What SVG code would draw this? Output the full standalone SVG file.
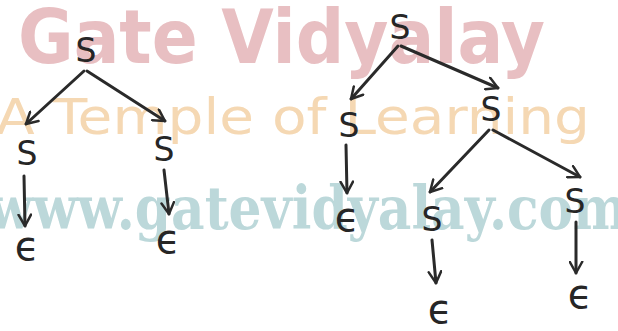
<svg xmlns="http://www.w3.org/2000/svg" width="618" height="331" viewBox="0 0 618 331">
<style>
.wm1{font-family:"DejaVu Sans Condensed","DejaVu Sans",sans-serif;font-weight:bold;fill:#e8bfc2;}
.wm2{font-family:"DejaVu Sans",sans-serif;fill:#f5d8b3;}
.wm3{font-family:"DejaVu Serif",serif;font-weight:bold;fill:#bcd8da;}
.sym{font-family:"DejaVu Sans",sans-serif;font-size:33px;fill:#262626;text-anchor:middle;}
.eps{font-family:"DejaVu Sans",sans-serif;font-size:40px;fill:#262626;text-anchor:middle;}
.edge{stroke:#2a2a2a;stroke-width:3;fill:none;stroke-linecap:round;marker-end:url(#ah);}
</style>
<defs>
<marker id="ah" viewBox="0 0 12 12" refX="10" refY="6" markerWidth="5" markerHeight="5" orient="auto" markerUnits="strokeWidth">
<polyline points="1,1 10,6 1,11" fill="none" stroke="#2a2a2a" stroke-width="2" stroke-linecap="round" stroke-linejoin="round"/>
</marker>
</defs>
<rect width="618" height="331" fill="#ffffff"/>
<g id="watermark">
<text class="wm1" x="18" y="63" font-size="74" textLength="527" lengthAdjust="spacingAndGlyphs">Gate Vidyalay</text>
<text class="wm2" x="-4" y="134" font-size="50" textLength="594" lengthAdjust="spacingAndGlyphs">A Temple of Learning</text>
<text class="wm3" x="-12" y="229" font-size="60" textLength="640" lengthAdjust="spacingAndGlyphs">www.gatevidyalay.com</text>
</g>
<g id="connectors">
<line class="edge" x1="84" y1="71" x2="26" y2="124"/>
<line class="edge" x1="87" y1="71" x2="165" y2="121"/>
<line class="edge" x1="24" y1="176" x2="25" y2="226"/>
<line class="edge" x1="164" y1="170" x2="169" y2="214"/>
<line class="edge" x1="398" y1="46" x2="351" y2="99"/>
<line class="edge" x1="401" y1="46" x2="498" y2="88"/>
<line class="edge" x1="346" y1="145" x2="347" y2="193"/>
<line class="edge" x1="489" y1="130" x2="430" y2="192"/>
<line class="edge" x1="493" y1="130" x2="580" y2="177"/>
<line class="edge" x1="432" y1="240" x2="436" y2="283"/>
<line class="edge" x1="576" y1="222" x2="576" y2="273"/>
</g>
<g id="n1"><text class="sym" x="86" y="62">S</text></g>
<g id="n2"><text class="sym" x="27" y="165">S</text></g>
<g id="n3"><text class="sym" x="164" y="161">S</text></g>
<g id="n4"><text class="eps" x="27" y="260">ϵ</text></g>
<g id="n5"><text class="eps" x="168" y="253">ϵ</text></g>
<g id="n6"><text class="sym" x="400" y="39">S</text></g>
<g id="n7"><text class="sym" x="349" y="137">S</text></g>
<g id="n8"><text class="sym" x="491" y="121">S</text></g>
<g id="n9"><text class="eps" x="347" y="231">ϵ</text></g>
<g id="n10"><text class="sym" x="432" y="231">S</text></g>
<g id="n11"><text class="sym" x="575" y="213">S</text></g>
<g id="n12"><text class="eps" x="440" y="323">ϵ</text></g>
<g id="n13"><text class="eps" x="580" y="308">ϵ</text></g>
</svg>
